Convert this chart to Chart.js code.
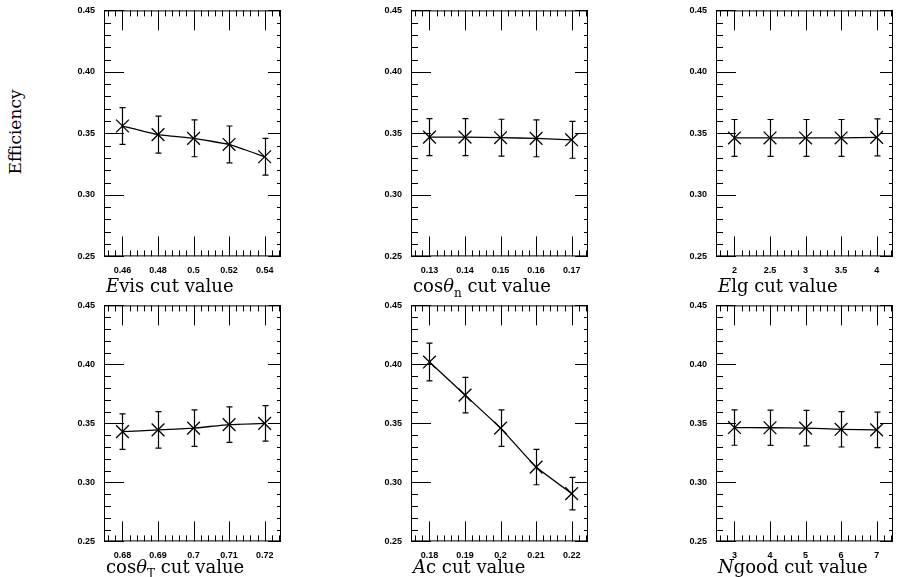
<!DOCTYPE html>
<html>
<head>
<meta charset="utf-8">
<script src="https://cdn.jsdelivr.net/npm/chart.js@4.4.1/dist/chart.umd.min.js"></script>
<style>
  html, body { margin: 0; padding: 0; background: #fff; }
  #page { position: relative; width: 924px; height: 577px; overflow: hidden; }
  .panel { position: absolute; }
  .xtitle {
    position: absolute;
    font-family: "DejaVu Serif", serif;
    font-size: 18px;
    color: #000;
    white-space: nowrap;
    line-height: 1;
  }
  .xtitle sub { font-size: 12px; vertical-align: -5px; line-height: 0; }
  #ytitle {
    position: absolute;
    left: 15px;
    top: 132px;
    transform: translate(-50%, -50%) rotate(-90deg);
    font-family: "DejaVu Serif", serif;
    font-size: 17px;
    color: #000;
    white-space: nowrap;
  }
</style>
</head>
<body>
<div id="page">
  <div id="ytitle">Efficiency</div>
</div>
<script>
// y axis, shared by all panels
const yTicks = [0.25, 0.30, 0.35, 0.40, 0.45];
const yTickLabels = ['0.25', '0.30', '0.35', '0.40', '0.45'];

// Evis cut
const cutEvis = [0.46, 0.48, 0.50, 0.52, 0.54];
const effEvis = [0.356, 0.349, 0.346, 0.341, 0.331];
const errEvis = [0.015, 0.015, 0.015, 0.015, 0.015];
const labelsEvis = ['0.46', '0.48', '0.5', '0.52', '0.54'];

// cos theta_n cut
const cutCosN = [0.13, 0.14, 0.15, 0.16, 0.17];
const effCosN = [0.347, 0.347, 0.3465, 0.346, 0.3448];
const errCosN = [0.015, 0.015, 0.015, 0.015, 0.015];
const labelsCosN = ['0.13', '0.14', '0.15', '0.16', '0.17'];

// Elg cut
const cutElg = [2, 2.5, 3, 3.5, 4];
const effElg = [0.3463, 0.3463, 0.3463, 0.3463, 0.3468];
const errElg = [0.015, 0.015, 0.015, 0.015, 0.015];
const labelsElg = ['2', '2.5', '3', '3.5', '4'];

// cos theta_T cut
const cutCosT = [0.68, 0.69, 0.70, 0.71, 0.72];
const effCosT = [0.343, 0.3445, 0.346, 0.349, 0.350];
const errCosT = [0.015, 0.0155, 0.0155, 0.015, 0.015];
const labelsCosT = ['0.68', '0.69', '0.7', '0.71', '0.72'];

// Ac cut
const cutAc = [0.18, 0.19, 0.20, 0.21, 0.22];
const effAc = [0.402, 0.374, 0.346, 0.313, 0.2905];
const errAc = [0.016, 0.015, 0.0155, 0.015, 0.0138];
const labelsAc = ['0.18', '0.19', '0.2', '0.21', '0.22'];

// Ngood cut
const cutNgood = [3, 4, 5, 6, 7];
const effNgood = [0.3465, 0.3463, 0.346, 0.345, 0.3445];
const errNgood = [0.015, 0.015, 0.015, 0.015, 0.015];
const labelsNgood = ['3', '4', '5', '6', '7'];

const panels = [
  { cut: cutEvis,  eff: effEvis,  err: errEvis,  labels: labelsEvis,  minor: 0.004, title: '<i>E</i>vis cut value' },
  { cut: cutCosN,  eff: effCosN,  err: errCosN,  labels: labelsCosN,  minor: 0.002, title: 'cos<i>θ</i><sub>n</sub> cut value' },
  { cut: cutElg,   eff: effElg,   err: errElg,   labels: labelsElg,   minor: 0.1,   title: '<i>E</i>lg cut value' },
  { cut: cutCosT,  eff: effCosT,  err: errCosT,  labels: labelsCosT,  minor: 0.002, title: 'cos<i>θ</i><sub>T</sub> cut value' },
  { cut: cutAc,    eff: effAc,    err: errAc,    labels: labelsAc,    minor: 0.002, title: '<i>A</i>c cut value' },
  { cut: cutNgood, eff: effNgood, err: errNgood, labels: labelsNgood, minor: 0.2,   title: '<i>N</i>good cut value' }
];

// layout of the 2x3 grid (plot areas)
const colLeft = [104, 411, 716];
const plotW = 177;
const rowTop = [10, 305];
const rowH = [246, 236];
const titleGap = [21, 17];

const ink = '#000';
const tickFont = { family: '"Liberation Sans", Arial, sans-serif', size: 9, weight: 'bold' };

// box round the plot plus inward ticks on all four sides
const framePlugin = {
  id: 'frame',
  afterDraw(chart, args, opts) {
    const { ctx, chartArea: a, scales: { x, y } } = chart;
    ctx.save();
    ctx.strokeStyle = ink;
    ctx.lineWidth = 1;
    ctx.strokeRect(a.left + 0.5, a.top + 0.5, a.right - a.left - 1, a.bottom - a.top - 1);
    ctx.beginPath();
    for (let k = -10; k < 120; k++) {
      const v = opts.first + k * opts.minor;
      if (v < x.min || v > x.max) continue;
      const px = Math.round(x.getPixelForValue(v)) + 0.5;
      const major = ((k % 5) + 5) % 5 === 0;
      ctx.moveTo(px, a.bottom); ctx.lineTo(px, a.bottom - (major ? 20 : 6));
      ctx.moveTo(px, a.top); ctx.lineTo(px, a.top + (major ? 20 : 6));
    }
    for (let k = 0; k <= 20; k++) {
      const v = y.min + k * 0.01;
      const py = Math.round(y.getPixelForValue(v)) + 0.5;
      const major = k % 5 === 0;
      ctx.moveTo(a.left, py); ctx.lineTo(a.left + (major ? 20 : 7), py);
      ctx.moveTo(a.right, py); ctx.lineTo(a.right - (major ? 13 : 4), py);
    }
    ctx.stroke();
    ctx.restore();
  }
};

// vertical error bars with small caps
const errorBarPlugin = {
  id: 'errorBars',
  afterDatasetsDraw(chart) {
    const { ctx, scales: { y } } = chart;
    chart.data.datasets.forEach((ds, di) => {
      const meta = chart.getDatasetMeta(di);
      ctx.save();
      ctx.strokeStyle = ink;
      ctx.lineWidth = 1.2;
      ctx.beginPath();
      meta.data.forEach((pt, k) => {
        const v = ds.data[k].y, e = ds.errors[k];
        const px = Math.round(pt.x) + 0.5;
        const y1 = y.getPixelForValue(v + e), y2 = y.getPixelForValue(v - e);
        ctx.moveTo(px, y1); ctx.lineTo(px, y2);
        ctx.moveTo(px - 3, y1); ctx.lineTo(px + 3, y1);
        ctx.moveTo(px - 3, y2); ctx.lineTo(px + 3, y2);
      });
      ctx.stroke();
      ctx.restore();
    });
  }
};

const page = document.getElementById('page');

panels.forEach((p, i) => {
  const row = Math.floor(i / 3);
  const left = colLeft[i % 3], top = rowTop[row], plotH = rowH[row];
  const box = document.createElement('div');
  box.className = 'panel';
  const cv = document.createElement('canvas');
  box.appendChild(cv);
  page.appendChild(box);
  let W = plotW + 44, H = plotH + 34;
  box.style.width = W + 'px';
  box.style.height = H + 'px';

  const n = p.cut.length;
  const span = p.cut[n - 1] - p.cut[0];

  const chart = new Chart(cv, {
    type: 'line',
    data: {
      datasets: [{
        data: p.cut.map((c, k) => ({ x: c, y: p.eff[k] })),
        errors: p.err,
        borderColor: ink,
        borderWidth: 1.3,
        tension: 0.1,
        fill: false,
        pointStyle: 'crossRot',
        pointRadius: 9,
        pointBorderWidth: 1.3,
        pointBorderColor: ink,
        pointBackgroundColor: ink
      }]
    },
    options: {
      responsive: true,
      maintainAspectRatio: false,
      animation: false,
      events: [],
      layout: { padding: { top: 8, right: 6, left: 0, bottom: 0 } },
      plugins: {
        legend: { display: false },
        tooltip: { enabled: false },
        frame: { first: p.cut[0], minor: p.minor }
      },
      scales: {
        x: {
          type: 'linear',
          min: p.cut[0] - 0.13 * span,
          max: p.cut[n - 1] + 0.115 * span,
          afterBuildTicks: s => { s.ticks = p.cut.map(v => ({ value: v })); },
          afterFit: s => { s.height = 22; },
          grid: { display: false, drawTicks: false },
          border: { display: false },
          ticks: {
            padding: 9, autoSkip: false, maxRotation: 0, minRotation: 0,
            font: tickFont, color: ink,
            callback: (v, k) => p.labels[k]
          }
        },
        y: {
          min: 0.25,
          max: 0.45,
          afterBuildTicks: s => { s.ticks = yTicks.map(v => ({ value: v })); },
          afterFit: s => { s.width = 34; },
          grid: { display: false, drawTicks: false },
          border: { display: false },
          ticks: {
            padding: 9, autoSkip: false,
            font: tickFont, color: ink,
            callback: (v, k) => yTickLabels[k]
          }
        }
      }
    },
    plugins: [framePlugin, errorBarPlugin]
  });

  // size the box so the plot area comes out exactly plotW x plotH
  let a = chart.chartArea;
  W += plotW - (a.right - a.left);
  H += plotH - (a.bottom - a.top);
  box.style.width = W + 'px';
  box.style.height = H + 'px';
  chart.resize();
  a = chart.chartArea;
  box.style.left = (left - a.left) + 'px';
  box.style.top = (top - a.top) + 'px';

  const t = document.createElement('div');
  t.className = 'xtitle';
  t.innerHTML = p.title;
  t.style.left = (left + 2) + 'px';
  t.style.top = (top + plotH + titleGap[row]) + 'px';
  page.appendChild(t);
});
</script>
</body>
</html>
